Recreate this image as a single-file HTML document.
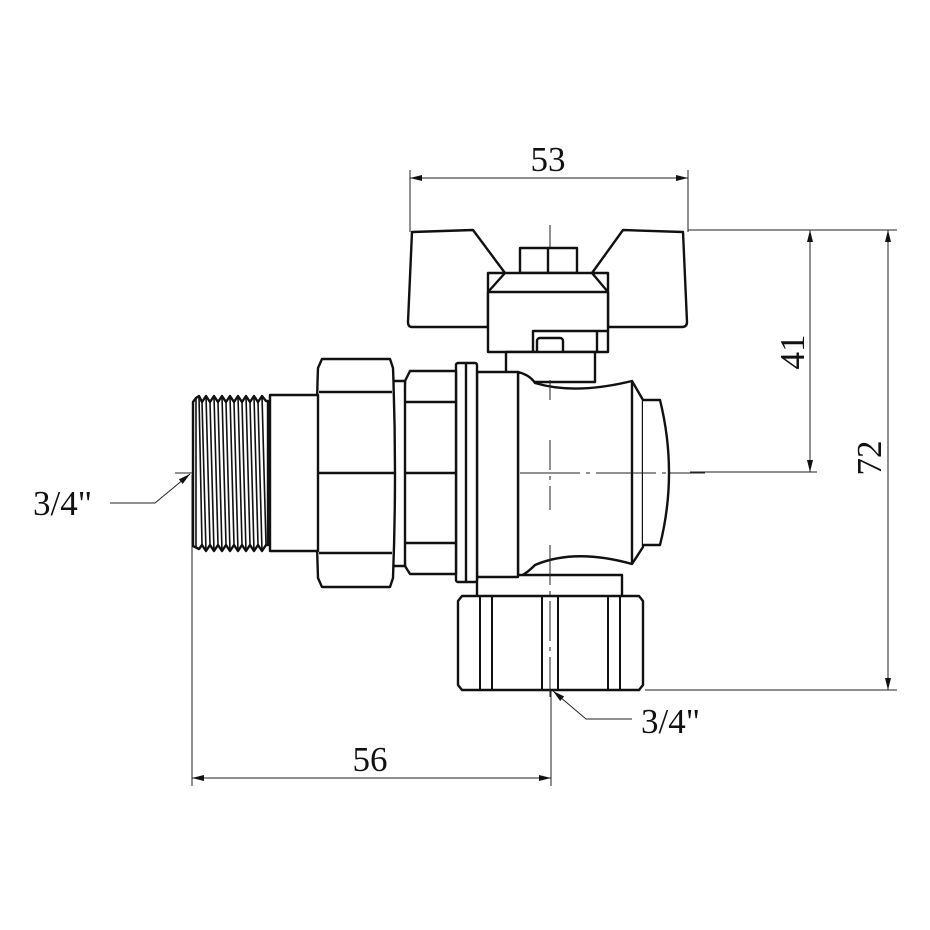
<!DOCTYPE html>
<html><head><meta charset="utf-8"><style>
html,body{margin:0;padding:0;background:#fff}
svg{display:block}
text{font-family:"Liberation Serif",serif;fill:#111}
</style></head><body>
<svg width="930" height="930" viewBox="0 0 930 930" xmlns="http://www.w3.org/2000/svg">
<defs>
<marker id="ar" viewBox="0 0 12 6" refX="12" refY="3" markerWidth="12" markerHeight="6" orient="auto-start-reverse" markerUnits="userSpaceOnUse"><path d="M0,0L12,3L0,6z" fill="#111"/></marker>
</defs>
<g stroke="#222" stroke-width="1" fill="none">
<line x1="175" y1="473" x2="705" y2="473" stroke-dasharray="60,6,4,6"/>
<line x1="550" y1="225" x2="550" y2="700" stroke-dasharray="45,6,4,6"/>
<line x1="410" y1="170" x2="410" y2="232"/>
<line x1="688" y1="170" x2="688" y2="232"/>
<line x1="410" y1="178" x2="688" y2="178" marker-start="url(#ar)" marker-end="url(#ar)"/>
<line x1="688" y1="230" x2="897" y2="230"/>
<line x1="690" y1="472" x2="817" y2="472"/>
<line x1="645" y1="690" x2="897" y2="690"/>
<line x1="810" y1="230" x2="810" y2="472" marker-start="url(#ar)" marker-end="url(#ar)"/>
<line x1="888" y1="230" x2="888" y2="690" marker-start="url(#ar)" marker-end="url(#ar)"/>
<line x1="192" y1="475" x2="192" y2="786"/>
<line x1="551" y1="690" x2="551" y2="786"/>
<line x1="192" y1="778" x2="551" y2="778" marker-start="url(#ar)" marker-end="url(#ar)"/>
<polyline points="110,503 155,503 190,474" marker-end="url(#ar)"/>
<polyline points="632,719 586,719 553,691" marker-end="url(#ar)"/>
</g>
<g stroke="#111" stroke-width="2.4" fill="#fff" stroke-linejoin="round">
<path d="M412,232 L473,230 L505,273 L488,273 L488,327 L412,327 Q408,327 408,322 Z"/>
<path d="M683,232 L623,230 L592,273 L608,273 L608,327 L682,327 Q687,327 687,322 Z"/>
<rect x="520" y="248" width="57" height="25"/>
<line x1="548" y1="248" x2="548" y2="273"/>
<path d="M505,273 L592,273 L608,292 L608,352 L488,352 L488,292 Z"/>
<line x1="488" y1="292" x2="608" y2="292"/>
<path d="M533,352 L533,331 L608,331" fill="none"/>
<line x1="597" y1="331" x2="597" y2="352"/>
<rect x="537" y="338" width="26" height="24" rx="3"/>
<rect x="506" y="352" width="89" height="30"/>
<path d="M518,372 Q530,375 535,383 Q575,395 632,381 L643,400 L643,547 L632,564 Q575,548 535,565 Q525,575 518,577 Z"/>
<line x1="632" y1="381" x2="632" y2="564"/>
<path d="M643,400 L660,400 Q678,473 660,545 L643,545"/>
<rect x="477" y="575" width="145" height="22"/>
<path d="M462,596 L639,596 L643,601 L643,685 L639,690 L462,690 L458,685 L458,601 Z"/>
<g fill="none" stroke-width="2">
<line x1="480" y1="597" x2="480" y2="689"/><line x1="492" y1="597" x2="492" y2="689"/>
<line x1="542" y1="597" x2="542" y2="689"/><line x1="558" y1="597" x2="558" y2="689"/>
<line x1="608" y1="597" x2="608" y2="689"/><line x1="620" y1="597" x2="620" y2="689"/>
</g>
<rect x="477" y="372" width="41" height="205"/>
<rect x="456" y="363" width="21" height="219" rx="2"/>
<line x1="466" y1="364" x2="466" y2="581"/>
<path d="M410,371 L456,371 L456,574 L410,574 L405,566 Q402,473 405,381 Z"/>
<line x1="406" y1="402" x2="456" y2="402"/>
<line x1="405" y1="473" x2="456" y2="473"/>
<line x1="406" y1="543" x2="456" y2="543"/>
<rect x="393" y="381" width="12" height="185"/>
<path d="M322,359 L390,359 L393,368 Q397,473 393,578 L390,587 L322,587 L318,578 Q314,473 318,368 Z"/>
<line x1="319" y1="392" x2="392" y2="392"/>
<line x1="317" y1="473" x2="394" y2="473"/>
<line x1="319" y1="553" x2="392" y2="553"/>
<rect x="270" y="395" width="48" height="156"/>
<path d="M193,402 L196,398 L199,396 L202,402 L206,396 L210,402 L214,396 L218,402 L222,396 L226,402 L230,396 L234,402 L238,396 L242,402 L246,396 L250,402 L254,396 L258,402 L262,396 L266,401 L268,401 L268,545 L266,545 L262,551 L258,545 L254,551 L250,545 L246,551 L242,545 L238,551 L234,545 L230,551 L226,545 L222,551 L218,545 L214,551 L210,545 L206,551 L202,545 L199,549 L193,546 Z"/>
<g fill="none" stroke-width="1.6">
<line x1="196" y1="399" x2="196" y2="547"/>
<line x1="199" y1="396" x2="202" y2="545"/><line x1="202" y1="402" x2="206" y2="551"/>
<line x1="206" y1="396" x2="210" y2="545"/><line x1="210" y1="402" x2="214" y2="551"/>
<line x1="214" y1="396" x2="218" y2="545"/><line x1="218" y1="402" x2="222" y2="551"/>
<line x1="222" y1="396" x2="226" y2="545"/><line x1="226" y1="402" x2="230" y2="551"/>
<line x1="230" y1="396" x2="234" y2="545"/><line x1="234" y1="402" x2="238" y2="551"/>
<line x1="238" y1="396" x2="242" y2="545"/><line x1="242" y1="402" x2="246" y2="551"/>
<line x1="246" y1="396" x2="250" y2="545"/><line x1="250" y1="402" x2="254" y2="551"/>
<line x1="254" y1="396" x2="258" y2="545"/><line x1="258" y1="402" x2="262" y2="551"/>
<line x1="262" y1="396" x2="266" y2="545"/>
</g>
</g>
<line x1="550" y1="380" x2="550" y2="400" stroke="#222" stroke-width="1"/>
<line x1="550" y1="440" x2="550" y2="510" stroke="#222" stroke-width="1" stroke-dasharray="30,6,4,6"/>
<line x1="550" y1="545" x2="550" y2="700" stroke="#222" stroke-width="1" stroke-dasharray="40,6,4,6"/>
<line x1="520" y1="473" x2="705" y2="473" stroke="#222" stroke-width="1" stroke-dasharray="60,6,4,6"/>
<text x="548" y="171" font-size="35" text-anchor="middle">53</text>
<text x="370" y="771" font-size="35" text-anchor="middle">56</text>
<text x="33" y="515" font-size="35">3/4"</text>
<text x="641" y="733" font-size="35">3/4"</text>
<text transform="translate(804,352) rotate(-90)" font-size="35" text-anchor="middle">41</text>
<text transform="translate(881,458) rotate(-90)" font-size="35" text-anchor="middle">72</text>
</svg>
</body></html>
